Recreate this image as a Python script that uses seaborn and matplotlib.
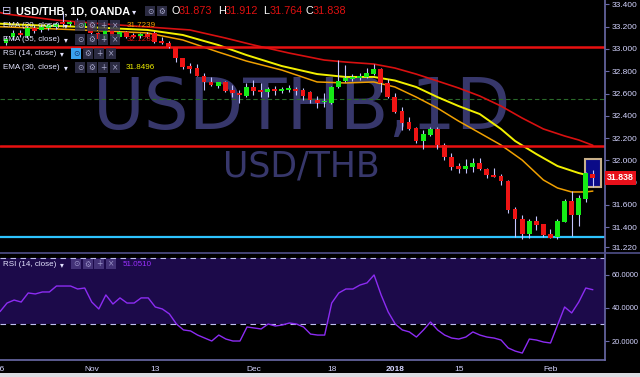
import matplotlib
matplotlib.use("Agg")
import matplotlib.pyplot as plt
import seaborn as sns
import numpy as np
from matplotlib.patches import Rectangle
from matplotlib.lines import Line2D

# ---------------- data ----------------
opens = [33.054, 33.108, 33.144, 33.117, 33.189, 33.171, 33.189, 33.198, 33.242, 33.224,
         33.242, 33.207, 33.233, 33.144, 33.090, 33.180, 33.108, 33.153, 33.126, 33.117,
         33.135, 33.144, 33.063, 33.054, 33.018, 32.919, 32.847, 32.829, 32.758, 32.704,
         32.668, 32.704, 32.632, 32.605, 32.578, 32.659, 32.632, 32.614, 32.641, 32.627,
         32.632, 32.641, 32.632, 32.614, 32.542, 32.520, 32.515, 32.659, 32.713, 32.731,
         32.740, 32.749, 32.775, 32.820, 32.695, 32.569, 32.443, 32.344, 32.291, 32.174,
         32.228, 32.282, 32.138, 32.030, 31.949, 31.922, 31.940, 31.976, 31.922, 31.868,
         31.860, 31.815, 31.563, 31.473, 31.339, 31.455, 31.428, 31.339, 31.312, 31.446,
         31.635, 31.509, 31.653, 31.873]
highs = [33.117, 33.171, 33.171, 33.207, 33.215, 33.224, 33.233, 33.242, 33.323, 33.251,
         33.278, 33.251, 33.251, 33.153, 33.180, 33.189, 33.162, 33.162, 33.144, 33.144,
         33.153, 33.162, 33.108, 33.072, 33.018, 32.919, 32.874, 32.865, 32.784, 32.749,
         32.704, 32.713, 32.677, 32.632, 32.695, 32.722, 32.695, 32.659, 32.668, 32.659,
         32.677, 32.659, 32.650, 32.623, 32.578, 32.605, 32.668, 32.901, 32.856, 32.775,
         32.784, 32.829, 32.865, 32.829, 32.731, 32.605, 32.479, 32.389, 32.300, 32.273,
         32.300, 32.300, 32.156, 32.066, 31.976, 32.012, 32.021, 32.021, 31.931, 31.931,
         31.877, 31.824, 31.581, 31.509, 31.473, 31.500, 31.428, 31.384, 31.473, 31.653,
         31.725, 31.689, 31.895, 31.912]
lows = [33.036, 33.081, 33.108, 33.099, 33.144, 33.153, 33.171, 33.180, 33.198, 33.207,
        33.198, 33.189, 33.126, 33.081, 33.081, 33.108, 33.099, 33.099, 33.099, 33.099,
        33.099, 33.054, 33.045, 33.009, 32.883, 32.820, 32.784, 32.758, 32.632, 32.668,
        32.650, 32.614, 32.569, 32.515, 32.569, 32.587, 32.569, 32.569, 32.587, 32.605,
        32.614, 32.587, 32.542, 32.515, 32.470, 32.479, 32.506, 32.650, 32.704, 32.713,
        32.722, 32.740, 32.766, 32.614, 32.560, 32.425, 32.273, 32.273, 32.156, 32.102,
        32.219, 32.102, 32.003, 31.913, 31.886, 31.886, 31.895, 31.913, 31.842, 31.851,
        31.779, 31.527, 31.312, 31.294, 31.303, 31.375, 31.312, 31.303, 31.294, 31.446,
        31.321, 31.411, 31.626, 31.764]
closes = [33.090, 33.144, 33.126, 33.189, 33.162, 33.198, 33.215, 33.224, 33.224, 33.233,
          33.215, 33.233, 33.144, 33.090, 33.171, 33.117, 33.153, 33.108, 33.108, 33.135,
          33.108, 33.063, 33.054, 33.018, 32.919, 32.838, 32.820, 32.758, 32.704, 32.677,
          32.704, 32.623, 32.605, 32.587, 32.659, 32.623, 32.614, 32.641, 32.623, 32.636,
          32.641, 32.623, 32.578, 32.542, 32.515, 32.529, 32.659, 32.713, 32.740, 32.749,
          32.758, 32.784, 32.820, 32.695, 32.569, 32.434, 32.335, 32.282, 32.174, 32.237,
          32.282, 32.138, 32.030, 31.940, 31.922, 31.949, 31.976, 31.922, 31.868, 31.855,
          31.815, 31.554, 31.473, 31.339, 31.455, 31.419, 31.330, 31.303, 31.455, 31.635,
          31.509, 31.662, 31.886, 31.838]

ema55_x = [-1, 0, 7, 14, 20, 26, 31, 35, 40, 45, 48, 52, 55, 58, 61, 64, 67, 70, 73, 76, 79, 81, 83]
ema55_y = [33.330, 33.314, 33.260, 33.224, 33.198, 33.171, 33.099, 33.036, 32.964, 32.901, 32.883,
           32.865, 32.829, 32.775, 32.713, 32.650, 32.578, 32.488, 32.380, 32.282, 32.219, 32.183, 32.135]
ema30_x = [-1, 0, 5, 11, 20, 25, 30, 34, 39, 44, 48, 52, 55, 58, 61, 64, 67, 70, 72, 75, 78, 81, 83]
ema30_y = [33.228, 33.224, 33.211, 33.198, 33.171, 33.126, 33.036, 32.946, 32.847, 32.775, 32.749,
           32.749, 32.717, 32.659, 32.569, 32.488, 32.416, 32.282, 32.174, 32.057, 31.949, 31.886, 31.855]
ema20_x = [-1, 0, 7, 14, 20, 25, 30, 34, 39, 44, 48, 52, 55, 58, 61, 64, 67, 70, 73, 76, 78, 80, 82, 83]
ema20_y = [33.200, 33.198, 33.180, 33.162, 33.144, 33.081, 32.973, 32.892, 32.811, 32.704, 32.695,
           32.704, 32.659, 32.569, 32.470, 32.353, 32.246, 32.138, 32.003, 31.824, 31.752, 31.716,
           31.716, 31.724]

rsi_x = list(range(-1, 84))
rsi_y = [37.8, 43.0, 44.8, 43.6, 49.1, 48.5, 49.7, 49.7, 53.3, 53.3, 53.3,
         51.5, 52.1, 43.6, 39.4, 47.9, 42.4, 46.1, 43.0, 43.0, 46.1,
         46.1, 40.6, 39.4, 36.4, 30.3, 26.7, 26.1, 23.6, 21.8, 20.0,
         23.6, 21.2, 20.0, 20.0, 28.5, 27.9, 27.3, 30.3, 29.1, 29.7,
         30.9, 30.3, 28.5, 24.2, 23.6, 23.6, 43.0, 49.1, 51.5, 51.5,
         53.9, 55.2, 60.0, 47.9, 37.6, 30.3, 26.7, 25.5, 22.4, 26.7,
         31.5, 26.7, 23.6, 21.8, 21.2, 22.4, 25.5, 23.6, 22.4, 21.8,
         20.6, 15.8, 13.9, 12.7, 21.2, 20.6, 19.4, 18.8, 29.7, 40.6,
         37.0, 43.6, 52.1, 51.05]

resistance_top = 33.02
resistance_mid = 32.13
support_low = 31.31
dashed_level = 32.554

price_ticks = [33.4, 33.2, 33.0, 32.8, 32.6, 32.4, 32.2, 32.0, 31.8, 31.6, 31.4, 31.22]
rsi_ticks = [20, 40, 60]
date_pos = [-1, 12, 21, 35, 46, 55, 64, 77]
date_labels = ["26", "Nov", "13", "Dec", "18", "2018", "15", "Feb"]

# ---------------- style ----------------
sns.set_style("dark", {"axes.facecolor": "black", "figure.facecolor": "black"})
plt.rcParams['font.family'] = ['Liberation Sans', 'DejaVu Sans']

W, H = 640, 377
def fx(x): return x / W
def fy(y): return 1 - y / H

AX_COL = '#6a6aa8'
LBL_COL = '#d4d4ff'
WICK = '#c4c4ff'
UP = '#16ec16'
DN = '#ee1414'

fig = plt.figure(figsize=(6.4, 3.77), dpi=100, facecolor='black')
ax = fig.add_axes([0, fy(252), fx(605), 252 / H])
ax2 = fig.add_axes([0, fy(360), fx(605), 107 / H])

for a in (ax, ax2):
    a.set_facecolor('black')
    a.grid(False)
    for s in a.spines.values():
        s.set_visible(False)
    a.spines['right'].set_visible(True)
    a.spines['right'].set_color(AX_COL)
    a.spines['right'].set_linewidth(1.2)

xlim = (-0.85, 84.72)

# ---- price pane ----
ax.set_xlim(*xlim)
ax.set_ylim(31.177, 33.44)

ax.text(fx(302), fy(129), 'USDTHB,1D', transform=fig.transFigure, fontsize=51,
        color='#37376b', ha='center', va='baseline', family='DejaVu Sans', zorder=0.5)
ax.text(fx(301), fy(176), 'USD/THB', transform=fig.transFigure, fontsize=25,
        color='#37376b', ha='center', va='baseline', family='DejaVu Sans', zorder=0.5)

ax.axhline(dashed_level, color='#2a6a2a', lw=0.8, ls=(0, (4, 2.5)), zorder=1)
ax.axhline(resistance_top, color='#e81010', lw=1.8, zorder=2.5)
ax.axhline(resistance_mid, color='#e81010', lw=1.8, zorder=2.5)
ax.axhline(support_low, color='#2ec4ff', lw=1.6, zorder=2.5)

sns.lineplot(x=ema55_x, y=ema55_y, ax=ax, color='#d81010', lw=1.2, zorder=2, estimator=None)
sns.lineplot(x=ema20_x, y=ema20_y, ax=ax, color='#f0a000', lw=1.1, zorder=2, estimator=None)
sns.lineplot(x=ema30_x, y=ema30_y, ax=ax, color='#f2f000', lw=1.4, zorder=2, estimator=None)

# hover highlight box around last bar
ax.add_patch(Rectangle((81.95, 31.761), 2.25, 0.251, facecolor='#0b0b88',
                       edgecolor='#c8b08a', lw=1.5, zorder=3))

idx = np.arange(len(opens))
o = np.array(opens); c = np.array(closes)
ax.vlines(idx, lows, highs, color=WICK, lw=0.8, zorder=3.5)
bottoms = np.minimum(o, c)
heights = np.maximum(np.abs(c - o), 0.014)
cols = [UP if cc >= oo else DN for oo, cc in zip(o, c)]
ax.bar(idx, heights, bottom=bottoms, width=0.68, color=cols, linewidth=0, zorder=4)

ax.yaxis.tick_right()
ax.set_yticks(price_ticks)
ax.set_yticklabels([f"{v:.3f}" for v in price_ticks])
ax.set_xticks([])
ax.tick_params(axis='y', colors=AX_COL, labelcolor=LBL_COL, length=3, width=0.8,
               labelsize=6, pad=2, direction='out')
ax.set_xlabel(''); ax.set_ylabel('')

# ---- RSI pane ----
ax2.set_xlim(*xlim)
ax2.set_ylim(8.5, 73.3)
ax2.axhspan(30, 70, color='#1c0a4a', zorder=0.5, lw=0)
ax2.axhline(70, color='#c0c0f0', lw=0.8, ls=(0, (5, 4)), zorder=1)
ax2.axhline(30, color='#c0c0f0', lw=0.8, ls=(0, (5, 4)), zorder=1)
sns.lineplot(x=rsi_x, y=rsi_y, ax=ax2, color='#8c2cf2', lw=1.0, zorder=2, estimator=None)

ax2.spines['bottom'].set_visible(True)
ax2.spines['bottom'].set_color(AX_COL)
ax2.spines['bottom'].set_linewidth(1.2)
ax2.yaxis.tick_right()
ax2.set_yticks(rsi_ticks)
ax2.set_yticklabels([f"{v:.4f}" for v in rsi_ticks])
ax2.set_xticks(date_pos)
ax2.set_xticklabels(date_labels)
for t in ax2.get_xticklabels():
    if t.get_text() == '2018':
        t.set_fontweight('bold')
ax2.tick_params(axis='y', colors=AX_COL, labelcolor=LBL_COL, length=3, width=0.8,
                labelsize=5.4, pad=2, direction='out')
ax2.tick_params(axis='x', colors=AX_COL, labelcolor=LBL_COL, length=3, width=0.8,
                labelsize=6, pad=1, direction='out')
ax2.set_xlabel(''); ax2.set_ylabel('')

# separator and bottom strip
fig.add_artist(Line2D([0, 1], [fy(252.5)] * 2, color='#50508a', lw=1.2, transform=fig.transFigure))
fig.add_artist(Rectangle((0, 0), 1, 4 / H, transform=fig.transFigure, facecolor='#dcdce2',
                         edgecolor='none'))

# last price label
fig.add_artist(Rectangle((fx(605), fy(185)), 31 / W, 14 / H, transform=fig.transFigure,
                         facecolor='#e8101a', edgecolor='none', zorder=5))
fig.text(fx(620.5), fy(178), '31.838', color='white', fontsize=6.3, fontweight='bold',
         ha='center', va='center', zorder=6)

# ---------------- legends ----------------
def icon(x, y, sym, fill='#33334e', fg='#a8a8cc', alpha=0.85):
    fig.add_artist(Rectangle((fx(x), fy(y + 10)), 10 / W, 10 / H, transform=fig.transFigure,
                             facecolor=fill, edgecolor='none', alpha=alpha, zorder=5))
    fig.text(fx(x + 5), fy(y + 5), sym, ha='center', va='center', fontsize=5.5,
             color=fg, family='DejaVu Sans', zorder=6)

def txt(x, y, s, color='#e4e4ff', size=5.8, weight='normal', family=None):
    kw = {}
    if family:
        kw['family'] = family
    fig.text(fx(x), fy(y), s, color=color, fontsize=size, fontweight=weight,
             ha='left', va='center', zorder=6, **kw)

syms = ['\u2299', '\u2699', '+', '\u00d7']

# line 1
txt(2, 11.5, '\u229f', color='#c8c8f0', size=8, family='DejaVu Sans')
txt(16, 11.5, 'USD/THB, 1D, OANDA', color='white', size=7.8, weight='bold')
txt(132, 12, '\u25be', color='#e4e4ff', size=6, family='DejaVu Sans')
icon(145, 6, syms[0]); icon(157, 6, syms[1])
ohlc = [('O', '31.873', 172), ('H', '31.912', 218), ('L', '31.764', 263), ('C', '31.838', 306)]
for lab, val, x in ohlc:
    txt(x, 11.5, lab, color='white', size=7.8)
    txt(x + 7, 11.5, val, color='#e01010', size=7.8)

rows = [('EMA (20, close)', 25.5, '31.7239', '#f0a000', 75, 127, False),
        ('EMA (55, close)', 39.5, '32.1282', '#e01010', 75, 127, False),
        ('RSI (14, close)', 53.5, None, None, 71, None, True),
        ('EMA (30, close)', 67.5, '31.8496', '#f2f000', 75, 126, False)]
for name, y, val, vcol, bx, vx, hl in rows:
    txt(3, y, name)
    txt(bx - 11, y + 0.5, '\u25be', size=5.5, family='DejaVu Sans')
    for k, s in enumerate(syms):
        if hl and k == 0:
            icon(bx + k * 11.7, y - 5, s, fill='#3aa2ee', fg='#12306a', alpha=1)
        else:
            icon(bx + k * 11.7, y - 5, s)
    if val:
        txt(vx, y, val, color=vcol)

# RSI pane legend
txt(3, 264, 'RSI (14, close)')
txt(60, 264.5, '\u25be', size=5.5, family='DejaVu Sans')
for k, s in enumerate(syms):
    icon(71 + k * 11.7, 259, s, fill='#4a3a80', fg='#9a92c8')
txt(123, 264, '51.0510', color='#9b30ff')

fig.savefig('out.png', dpi=100, facecolor='black')
